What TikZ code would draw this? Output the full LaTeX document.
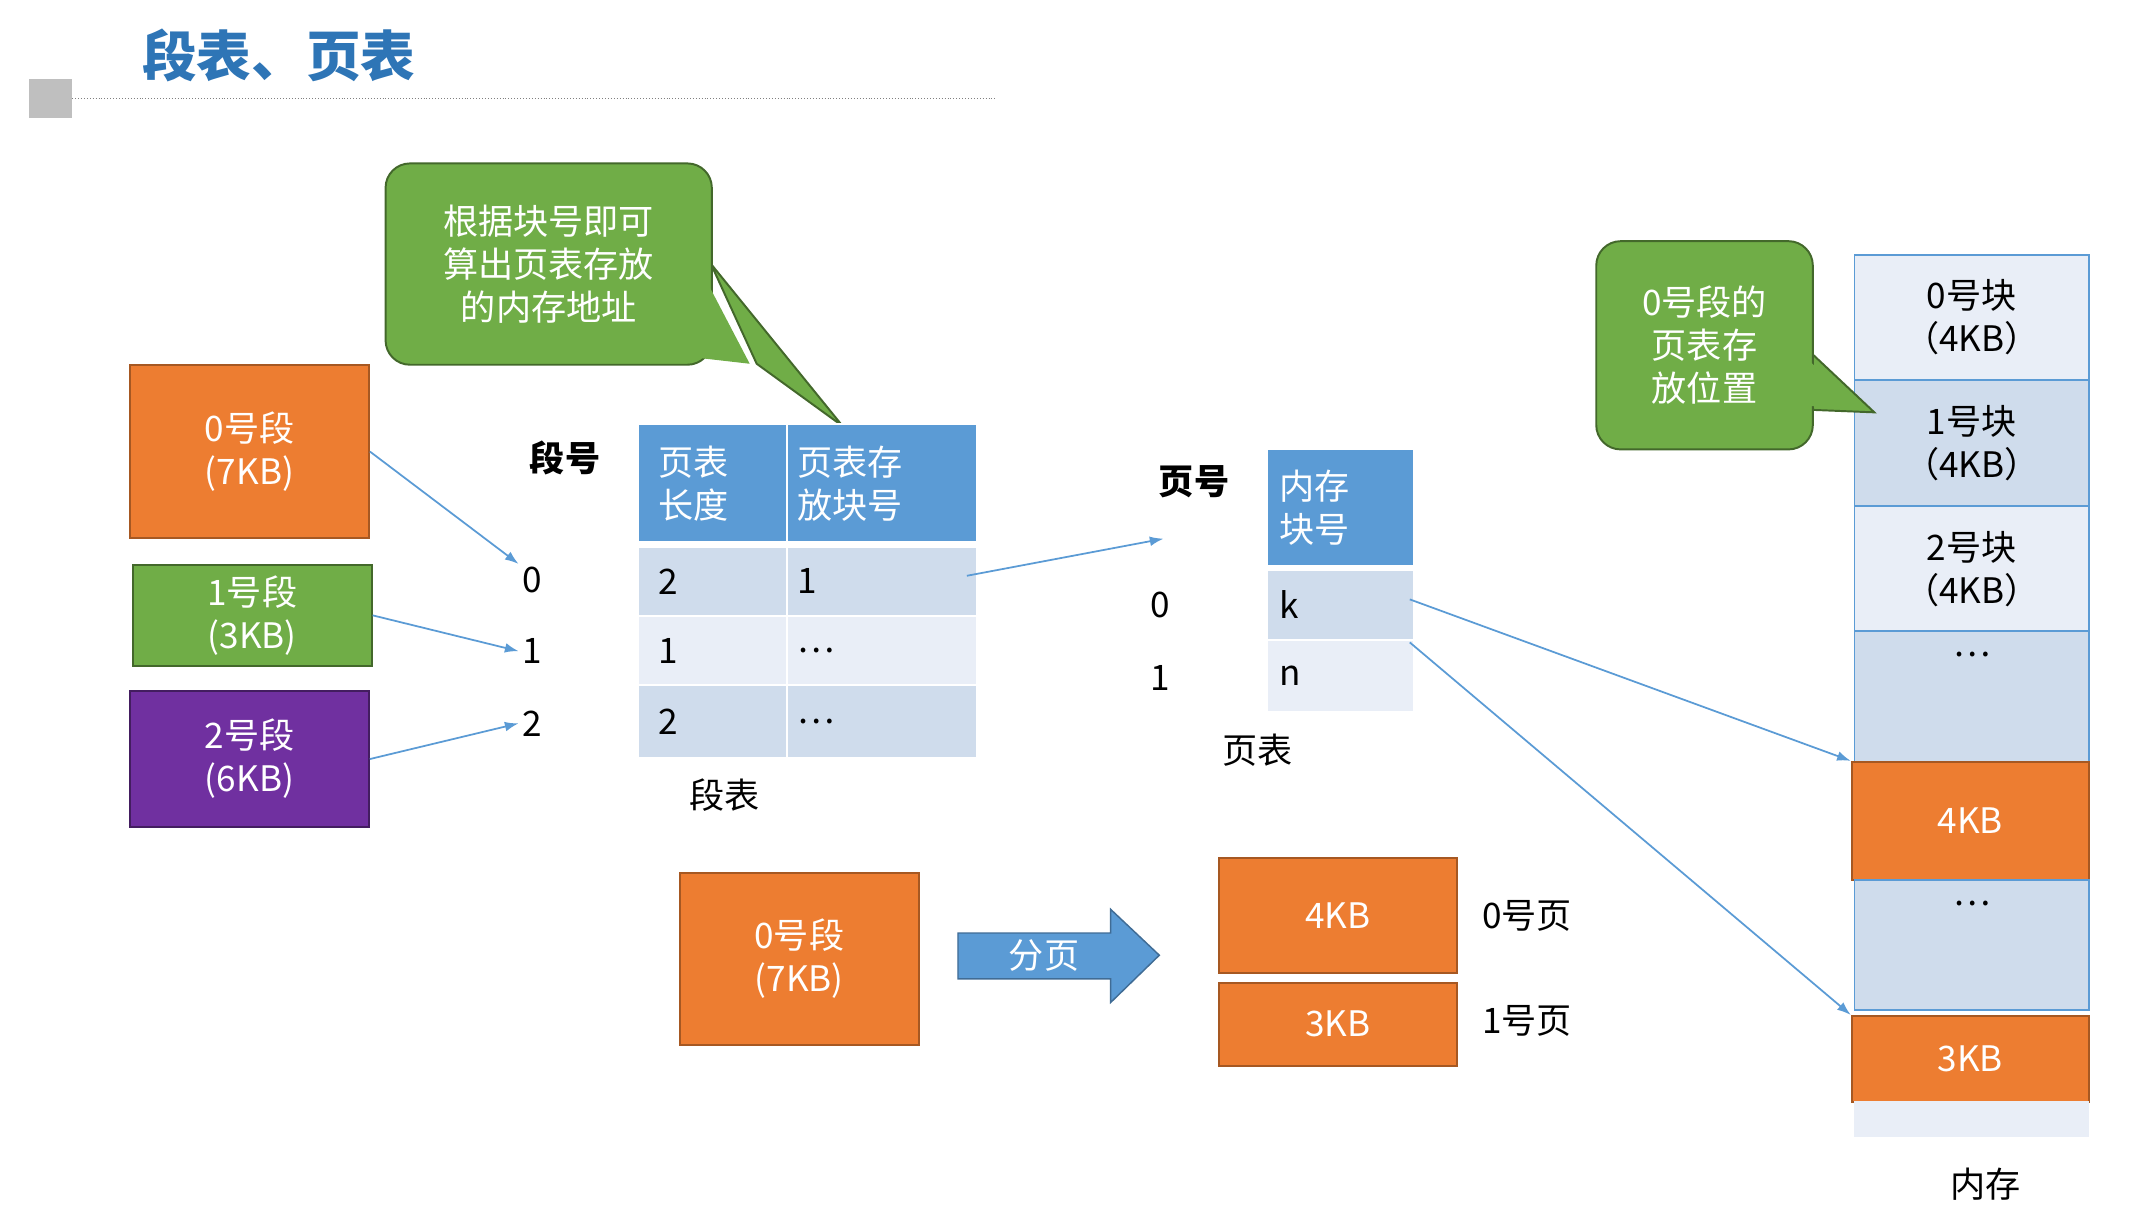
\documentclass[tikz,border=0pt]{standalone}
\usepackage{fontspec}
\setmainfont{Noto Sans CJK SC}
\usetikzlibrary{calc}
\definecolor{hdr}{HTML}{5B9BD5}
\definecolor{r1}{HTML}{CFDCEC}
\definecolor{r2}{HTML}{E9EEF7}
\definecolor{org}{HTML}{ED7D31}
\definecolor{grn}{HTML}{70AD47}
\definecolor{pur}{HTML}{7030A0}
\definecolor{ttl}{HTML}{2E75B6}
\definecolor{ln}{HTML}{5B9BD5}
\newcommand\mybox[7]{%
 \pgfmathsetmacro\bw{(#4-#2)*0.05}\pgfmathsetmacro\bh{(#5-#3)*0.05}%
 \node[#6,minimum width=\bw cm,minimum height=\bh cm,anchor=north west,inner sep=0pt,align=center] (#1) at (#2,#3) {#7};}
\begin{document}
\begin{tikzpicture}[x=0.05cm,y=-0.05cm,
 txt/.style={font=\fontsize{36}{44}\selectfont},
 wt/.style={txt,text=white},
 ob/.style={fill=org,draw=org!70!black,line width=2pt,wt},
 cell/.style={draw=white,line width=2pt,txt,text width=3.5cm},
 arr/.style={draw=ln,line width=1.8pt,-{Latex[length=14pt,width=10pt]}}]
\useasboundingbox (0,0) rectangle (1550,877);
\usetikzlibrary{arrows.meta}
% title
\node[font=\fontsize{56}{60}\selectfont\bfseries,text=ttl,anchor=west] (title) at (100,40) {段表、页表};
\fill[gray!50] (21,57) rectangle (52,85);
\coordinate (d1) at (52,71); \coordinate (d2) at (718,71);
\draw[gray,dotted,line width=1pt] (d1) -- (d2);
% callout 1
\fill[grn,draw=grn!60!black,line width=2pt] (512,190) -- (607,307) -- (545,262) -- cycle;
\mybox{c1}{277}{117}{512}{262}{fill=grn,draw=grn!60!black,line width=2pt,rounded corners=25pt,wt}{根据块号即可\\算出页表存放\\的内存地址}
\fill[grn] (505,195) -- (540,262) -- (505,258) -- cycle;
% segments
\mybox{s0}{93}{262}{265}{387}{ob}{0号段\\(7KB)}
\mybox{s1}{95}{406}{267}{479}{fill=grn,draw=grn!60!black,line width=2pt,wt}{1号段\\(3KB)}
\mybox{s2}{93}{497}{265}{595}{fill=pur,draw=pur!60!black,line width=2pt,wt}{2号段\\(6KB)}
\node[txt,font=\fontsize{36}{44}\selectfont\bfseries] (dh) at (407,330) {段号};
\node[txt] (i0) at (383,418) {0};
\node[txt] (i1) at (383,469) {1};
\node[txt] (i2) at (383,521) {2};
\draw[arr] (s0.east) ++(0,-0) -- (i0.north west);
\draw[arr] (s1.east) -- (i1.west);
\draw[arr] (s2.east) -- (i2.west);
% segment table
\mybox{h1}{459}{305}{566}{390}{fill=hdr,draw=white,line width=2pt,wt}{\hspace*{0.6cm}\parbox{4.5cm}{页表\\长度}}
\mybox{h2}{566}{305}{703}{390}{fill=hdr,draw=white,line width=2pt,wt}{\hspace*{0.3cm}\parbox{6.4cm}{页表存\\放块号}}
\foreach \y/\z/\c/\a/\b [count=\k] in {393/443/r1/2/1,443/493/r2/1/…,493/545/r1/2/…}{
 \mybox{a\k}{459}{\y}{566}{\z}{fill=\c,draw=white,line width=2pt,txt}{\hspace*{0.6cm}\makebox[4.5cm][l]{\a}}
 \mybox{b\k}{566}{\y}{703}{\z}{fill=\c,draw=white,line width=2pt,txt}{\hspace*{0.3cm}\makebox[6.4cm][l]{\b}}}
\node[txt] (dt) at (522,573) {段表};
% page table
\node[txt,font=\fontsize{36}{44}\selectfont\bfseries] (ph) at (860,347) {页号};
\mybox{p0}{912}{323}{1018}{407}{fill=hdr,draw=white,line width=2pt,wt}{\hspace*{0.4cm}\parbox{4.8cm}{内存\\块号}}
\mybox{pk}{912}{410}{1018}{460}{fill=r1,draw=white,line width=2pt,txt}{\hspace*{0.4cm}\makebox[4.8cm][l]{k}}
\mybox{pn}{912}{460}{1018}{512}{fill=r2,draw=white,line width=2pt,txt}{\hspace*{0.4cm}\makebox[4.8cm][l]{n}}
\node[txt] (j0) at (836,436) {0};
\node[txt] (j1) at (836,488) {1};
\node[txt] (pt) at (906,540) {页表};
\coordinate (pin) at (838,388);
\draw[arr] ($(b1.east)+(-8,-4)$) -- (pin);
% memory
\mybox{m0}{1335}{183}{1504}{273}{fill=r2,draw=hdr,line width=2pt,txt}{0号块\\（4KB）}
\mybox{m1}{1335}{273}{1504}{364}{fill=r1,draw=hdr,line width=2pt,txt}{1号块\\（4KB）}
\mybox{m2}{1335}{364}{1504}{454}{fill=r2,draw=hdr,line width=2pt,txt}{2号块\\（4KB）}
\mybox{m3}{1335}{454}{1504}{548}{fill=r1,draw=hdr,line width=2pt,txt}{…\\[1.5cm]}
\mybox{m4}{1333}{548}{1504}{633}{ob}{4KB}
\mybox{m5}{1335}{633}{1504}{727}{fill=r1,draw=hdr,line width=2pt,txt}{…\\[1.5cm]}
\mybox{m6}{1333}{731}{1504}{793}{ob}{3KB}
\mybox{m7}{1335}{793}{1504}{818}{fill=r2,draw=r2,line width=1pt}{}
\node[txt] (mem) at (1430,853) {内存};
\draw[arr] ($(pk.east)+(-4,-4)$) -- (m4.north west);
\draw[arr] ($(pn.east)+(-4,-24)$) -- (m6.north west);
% callout 2
\fill[grn,draw=grn!60!black,line width=2pt] (1300,250) -- (1350,297) -- (1300,295) -- cycle;
\mybox{c2}{1149}{173}{1305}{323}{fill=grn,draw=grn!60!black,line width=2pt,rounded corners=25pt,wt}{0号段的\\页表存\\放位置}
\fill[grn] (1298,255) -- (1340,295) -- (1298,292) -- cycle;
% bottom
\mybox{b0}{489}{628}{661}{752}{ob}{0号段\\(7KB)}
\fill[hdr,draw=hdr!70!black,line width=1.5pt] (690,672) -- (800,672) -- (800,655) -- (835,688) -- (800,722) -- (800,705) -- (690,705) -- cycle;
\node[wt] (fy) at (752,688) {分页};
\mybox{g0}{877}{617}{1049}{700}{ob}{4KB}
\mybox{g1}{877}{707}{1049}{767}{ob}{3KB}
\node[txt] (l0) at (1100,660) {0号页};
\node[txt] (l1) at (1100,735) {1号页};
\end{tikzpicture}
\end{document}
